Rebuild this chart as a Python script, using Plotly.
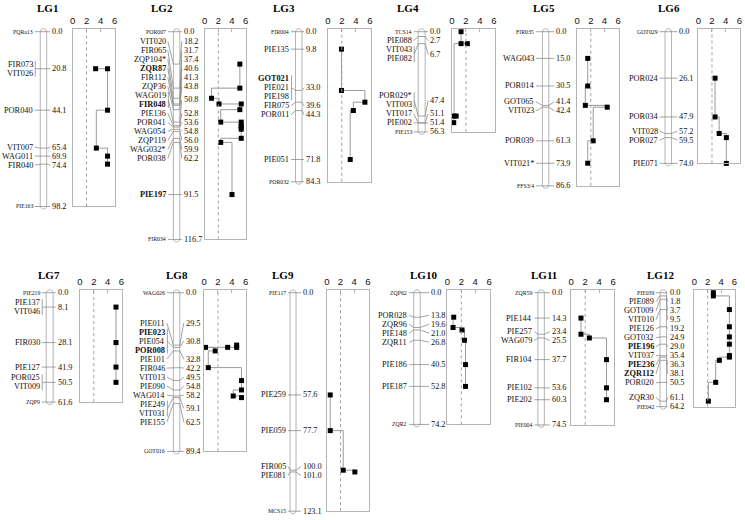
import math
import plotly.graph_objects as go

W, H = 745, 520

# ------------------------------------------------------------------ data
LG1_markers = ["PQRa13", "FIR073", "VIT026", "POR040", "VIT007", "WAG011", "FIR040", "PIE163"]
LG1_cM = [0.0, 20.8, 20.8, 44.1, 65.4, 69.9, 74.4, 98.2]
LG1_qtl_cM = [20.8, 20.8, 44.1, 65.4, 69.9, 74.4]
LG1_qtl_lod = [3.3, 5.0, 5.0, 3.4, 5.0, 5.0]

LG2_markers = ["POR007", "VIT020", "FIR065", "ZQP104*", "ZQR87", "FIR112", "ZQP36", "WAG019", "FIR048",
               "PIE136", "POR041", "WAG054", "ZQP119", "WAG032*", "POR038", "PIE197", "FIR034"]
LG2_cM = [0.0, 18.2, 31.7, 37.4, 40.6, 41.3, 43.8, 50.8, 50.8, 52.8, 53.6, 54.8, 56.0, 59.9, 62.2, 91.5, 116.7]
LG2_qtl_cM = [18.2, 31.7, 37.4, 40.6, 40.6, 43.8, 50.8, 50.8, 52.8, 53.6, 54.8, 59.9, 62.2, 91.5]
LG2_qtl_lod = [5.15, 5.15, 1.0, 2.1, 5.35, 5.15, 2.35, 5.35, 5.35, 5.35, 5.35, 5.35, 2.35, 4.0]

LG3_markers = ["FIR004", "PIE135", "GOT021", "PIE021", "PIE198", "FIR075", "POR011", "PIE051", "POR032"]
LG3_cM = [0.0, 9.8, 33.0, 33.0, 33.0, 39.6, 44.3, 71.8, 84.3]
LG3_qtl_cM = [9.8, 33.0, 39.6, 44.3, 71.8]
LG3_qtl_lod = [1.95, 1.95, 5.3, 3.65, 3.2]

LG4_markers = ["TCS14", "PIE088", "VIT043", "PIE082", "POR029*", "VIT003", "VIT017", "PIE002", "PIE153"]
LG4_cM = [0.0, 2.7, 6.7, 6.7, 47.4, 47.4, 51.1, 51.4, 56.3]
LG4_qtl_cM = [0.0, 6.7, 6.7, 47.4, 47.4, 51.1]
LG4_qtl_lod = [1.3, 1.3, 2.2, 0.3, 0.6, 0.25]

LG5_markers = ["FIR035", "WAG043", "POR014", "GOT065", "VIT023", "POR039", "VIT021*", "FFS3/4"]
LG5_cM = [0.0, 15.0, 30.5, 41.4, 42.4, 61.3, 73.9, 86.6]
LG5_qtl_cM = [15.0, 30.5, 41.4, 42.4, 61.3, 73.9]
LG5_qtl_lod = [1.55, 1.55, 1.2, 4.4, 2.35, 1.55]

LG6_markers = ["GOT029", "POR024", "POR034", "VIT028", "POR027", "PIE071"]
LG6_cM = [0.0, 26.1, 47.9, 57.2, 59.5, 74.0]
LG6_qtl_cM = [26.1, 47.9, 57.2, 59.5, 74.0]
LG6_qtl_lod = [2.45, 2.45, 3.05, 4.1, 4.1]

LG7_markers = ["PIE219", "PIE137", "VIT046", "FIR030", "PIE127", "POR025", "VIT009", "ZQP9"]
LG7_cM = [0.0, 8.1, 8.1, 28.1, 41.9, 50.5, 50.5, 61.6]
LG7_qtl_cM = [8.1, 28.1, 41.9, 50.5]
LG7_qtl_lod = [5.2, 5.2, 5.2, 5.2]

LG8_markers = ["WAG026", "PIE011", "PIE023", "PIE054", "POR008", "PIE101", "FIR046", "VIT013", "PIE090",
               "WAG014", "PIE249", "VIT031", "PIE155", "GOT016"]
LG8_cM = [0.0, 29.5, 30.8, 30.8, 30.8, 32.8, 42.2, 49.5, 54.8, 58.2, 59.1, 59.1, 62.5, 89.4]
LG8_qtl_cM = [29.5, 30.8, 30.8, 30.8, 32.8, 42.2, 49.5, 54.8, 58.2, 59.1]
LG8_qtl_lod = [4.7, 4.7, 3.4, 0.2, 1.6, 0.6, 5.4, 5.4, 4.2, 5.4]

LG9_markers = ["PIE117", "PIE259", "PIE059", "FIR005", "PIE081", "MCS15"]
LG9_cM = [0.0, 57.6, 77.7, 100.0, 101.0, 123.1]
LG9_qtl_cM = [57.6, 77.7, 100.0, 101.0]
LG9_qtl_lod = [0.5, 0.5, 2.4, 4.1]

LG10_markers = ["ZQP62", "POR028", "ZQR96", "PIE148", "ZQR11", "PIE186", "PIE187", "ZQR2"]
LG10_cM = [0.0, 13.8, 19.6, 21.0, 26.8, 40.5, 52.8, 74.2]
LG10_qtl_cM = [13.8, 19.6, 21.0, 26.8, 40.5, 52.8]
LG10_qtl_lod = [0.9, 0.8, 2.1, 2.45, 2.6, 2.6]

LG11_markers = ["ZQR59", "PIE144", "PIE257", "WAG079", "FIR104", "PIE102", "PIE202", "PIE004"]
LG11_cM = [0.0, 14.3, 23.4, 25.5, 37.7, 53.6, 60.3, 74.5]
LG11_qtl_cM = [14.3, 23.4, 25.5, 37.7, 53.6, 60.3]
LG11_qtl_lod = [1.4, 1.4, 2.6, 5.05, 5.05, 5.05]

LG12_markers = ["PIE039", "PIE089", "GOT009", "VIT010", "PIE126", "GOT032", "PIE196", "VIT037", "PIE236",
                "ZQR112", "POR020", "ZQR30", "PIE042"]
LG12_cM = [0.0, 1.8, 3.7, 9.5, 19.2, 24.9, 29.0, 35.4, 36.3, 38.1, 50.5, 61.1, 64.2]
LG12_qtl_cM = [0.0, 1.8, 9.5, 19.2, 24.9, 29.0, 35.4, 36.3, 38.1, 50.5, 61.1]
LG12_qtl_lod = [2.85, 2.85, 5.25, 5.25, 5.25, 5.25, 5.25, 5.25, 3.75, 3.2, 2.1]

bold_markers = ["ZQR87", "FIR048", "PIE197", "GOT021", "PIE023", "POR008", "PIE196", "PIE236", "ZQR112"]
end_markers = ["PQRa13", "PIE163", "POR007", "FIR034", "FIR004", "POR032", "TCS14", "PIE153", "FIR035",
               "FFS3/4", "GOT029", "PIE219", "ZQP9", "WAG026", "GOT016", "PIE117", "MCS15", "ZQP62",
               "ZQR2", "ZQR59", "PIE004", "PIE039", "PIE042"]
lod_ticks = [0, 2, 4, 6]
lod_threshold = 2.0

LGS = [
    ("LG1", LG1_markers, LG1_cM, LG1_qtl_cM, LG1_qtl_lod),
    ("LG2", LG2_markers, LG2_cM, LG2_qtl_cM, LG2_qtl_lod),
    ("LG3", LG3_markers, LG3_cM, LG3_qtl_cM, LG3_qtl_lod),
    ("LG4", LG4_markers, LG4_cM, LG4_qtl_cM, LG4_qtl_lod),
    ("LG5", LG5_markers, LG5_cM, LG5_qtl_cM, LG5_qtl_lod),
    ("LG6", LG6_markers, LG6_cM, LG6_qtl_cM, LG6_qtl_lod),
    ("LG7", LG7_markers, LG7_cM, LG7_qtl_cM, LG7_qtl_lod),
    ("LG8", LG8_markers, LG8_cM, LG8_qtl_cM, LG8_qtl_lod),
    ("LG9", LG9_markers, LG9_cM, LG9_qtl_cM, LG9_qtl_lod),
    ("LG10", LG10_markers, LG10_cM, LG10_qtl_cM, LG10_qtl_lod),
    ("LG11", LG11_markers, LG11_cM, LG11_qtl_cM, LG11_qtl_lod),
    ("LG12", LG12_markers, LG12_cM, LG12_qtl_cM, LG12_qtl_lod),
]

# ------------------------------------------------------------------ layout geometry (pixels)
GEOM = {
    "LG1": dict(title=45, lab=31, cl=37.5, cr=44, num=48.5, bl=70, br=113, row=0),
    "LG2": dict(title=160, lab=165, cl=171.5, cr=178, num=181, bl=203, br=245, row=0, shift=-15),
    "LG3": dict(title=283, lab=289, cl=294.5, cr=301, num=304, bl=327, br=370, row=0),
    "LG4": dict(title=408, lab=412.5, cl=418, cr=425, num=429, bl=452, br=495, row=0),
    "LG5": dict(title=545, lab=535.5, cl=543, cr=549.5, num=556, bl=578, br=620, row=0),
    "LG6": dict(title=670, lab=660, cl=666.5, cr=673, num=680, bl=700, br=742, row=0),
    "LG7": dict(title=46.5, lab=38, cl=43.5, cr=50.5, num=54, bl=77.5, br=120, row=1),
    "LG8": dict(title=175, lab=164, cl=171.5, cr=178, num=183, bl=202.5, br=245, row=1),
    "LG9": dict(title=281.5, lab=286, cl=289, cr=295, num=301, bl=326, br=368, row=1),
    "LG10": dict(title=423, lab=408, cl=413.5, cr=420, num=430, bl=447.5, br=490, row=1),
    "LG11": dict(title=545, lab=534, cl=538.5, cr=545, num=551.5, bl=572, br=615, row=1),
    "LG12": dict(title=661.5, lab=656.5, cl=661.5, cr=668, num=670, bl=696, br=737, row=1),
}
ROWS = [dict(y0=31.7, k=1.78, title_y=8), dict(y0=292.7, k=1.775, title_y=275)]
GAP_PX = 9.0
LABEL_SIZE = 8.3
SERIF = "Liberation Serif, Times New Roman, serif"
TEXT_COL = "#111111"
LINE_COL = "#8c8c8c"
FRAME_COL = "#b4b4b4"


def spread(desired, gap, lo, hi, shift=0.0):
    clusters = []

    def top_of(c):
        n = c[1]
        t = c[2] / n - (n - 1) * gap / 2.0
        if n > 1:
            t += shift
        t = min(t, hi - (n - 1) * gap)
        return max(lo, t)

    for i, d in enumerate(desired):
        clusters.append([i, 1, d])
        while len(clusters) > 1:
            a, b = clusters[-2], clusters[-1]
            if top_of(a) + a[1] * gap > top_of(b) + 1e-9:
                clusters[-2] = [a[0], a[1] + b[1], a[2] + b[2]]
                clusters.pop()
            else:
                break
    out = []
    for c in clusters:
        t = top_of(c)
        out += [t + j * gap for j in range(c[1])]
    return out


fig = go.Figure()
annotations = []
shapes = []
axes = {
    "xaxis": dict(range=[0, W], domain=[0, 1], visible=False, fixedrange=True),
    "yaxis": dict(range=[0, 1], domain=[0, 1], visible=False, fixedrange=True),
}

for i, (name, markers, cm, qcm, qlod) in enumerate(LGS):
    g = GEOM[name]
    r = ROWS[g["row"]]
    y0, k = r["y0"], r["k"]
    L = cm[-1]
    my_idx, ly_idx, lx_idx = i + 2, i + 14, i + 2
    my, ly, lx = f"y{my_idx}", f"y{ly_idx}", f"x{lx_idx}"

    def dom(top_cm, bot_cm):
        return [max(0.0, 1 - (y0 + bot_cm * k) / H), min(1.0, 1 - (y0 + top_cm * k) / H)]

    et = 4.0
    eb = min(4.0, (H - 0.5 - (y0 + L * k)) / k)
    axes[f"yaxis{my_idx}"] = dict(range=[L + eb, -et], domain=dom(-et, L + eb), visible=False,
                                  fixedrange=True, anchor="x")
    axes[f"yaxis{ly_idx}"] = dict(range=[L, -1.5], domain=dom(-1.5, L), anchor=lx, showline=True,
                                  mirror=True, linecolor=FRAME_COL, linewidth=1, ticks="",
                                  showticklabels=False, showgrid=False, zeroline=False, fixedrange=True)
    axes[f"xaxis{lx_idx}"] = dict(range=[0, 6.1], domain=[g["bl"] / W, g["br"] / W], anchor=ly,
                                  side="top", tickmode="array", tickvals=lod_ticks,
                                  ticktext=[str(t) for t in lod_ticks], ticks="inside", ticklen=3,
                                  tickcolor=FRAME_COL, showline=True, mirror=True, linecolor=FRAME_COL,
                                  linewidth=1, showgrid=False, zeroline=False, fixedrange=True,
                                  tickfont=dict(family="Liberation Sans, Arial, sans-serif", size=9.5,
                                                color=TEXT_COL))

    gap = GAP_PX / k
    shift = g.get("shift", 0.0) / k
    # label display positions (left column)
    disp = [cm[0]] + spread(cm[1:-1], gap, cm[0] + gap, L - gap, shift) + [L]
    # groups of identical positions (right column)
    groups = []
    for j, c in enumerate(cm):
        if groups and abs(groups[-1][0] - c) < 1e-9:
            groups[-1][1].append(j)
        else:
            groups.append((c, [j]))
    row_des = [sum(disp[j] for j in idx) / len(idx) for _, idx in groups]
    rows = [row_des[0]] + spread(row_des[1:-1], gap, row_des[0] + gap, row_des[-1] - gap) + [row_des[-1]]

    # chromosome capsule
    rad = (g["cr"] - g["cl"]) / 2.0
    cx = (g["cl"] + g["cr"]) / 2.0
    top_c = -3.0 / k
    bot_c = L + 2.5 / k
    px, py = [], []
    nseg = 10
    for s in range(nseg + 1):
        a = math.pi + math.pi * s / nseg
        px.append(cx + rad * math.cos(a))
        py.append(top_c + rad / k + (rad / k) * math.sin(a))
    for s in range(nseg + 1):
        a = math.pi * s / nseg
        px.append(cx + rad * math.cos(a))
        py.append(bot_c - rad / k + (rad / k) * math.sin(a))
    px.append(px[0])
    py.append(py[0])
    fig.add_trace(go.Scatter(x=px, y=py, xaxis="x", yaxis=my, mode="lines", fill="toself",
                             fillcolor="white", line=dict(color=FRAME_COL, width=1), hoverinfo="skip"))

    # connector lines
    cxs, cys = [], []
    for gi, (pos, idx) in enumerate(groups):
        if len(idx) == 1:
            j = idx[0]
            cxs += [g["lab"] + 1, g["cl"], g["cr"], g["num"] - 1, None]
            cys += [disp[j], pos, pos, rows[gi], None]
        else:
            ys = [disp[j] for j in idx]
            bx = g["lab"] + 1.5
            cxs += [bx, bx, None]
            cys += [min(ys) - 3.5 / k, max(ys) + 3.5 / k, None]
            cxs += [bx, g["cl"], g["cr"], g["num"] - 1, None]
            cys += [sum(ys) / len(ys), pos, pos, rows[gi], None]
    fig.add_trace(go.Scatter(x=cxs, y=cys, xaxis="x", yaxis=my, mode="lines",
                             line=dict(color=LINE_COL, width=0.8), hoverinfo="skip"))

    # marker labels
    for j, mname in enumerate(markers):
        small = mname in end_markers
        txt = f"<b>{mname}</b>" if mname in bold_markers else mname
        annotations.append(dict(x=g["lab"], y=disp[j], xref="x", yref=my, text=txt, showarrow=False,
                                xanchor="right", yanchor="middle", borderpad=0,
                                font=dict(family=SERIF, size=5.8 if small else LABEL_SIZE, color=TEXT_COL)))
    # position labels
    for gi, (pos, idx) in enumerate(groups):
        annotations.append(dict(x=g["num"], y=rows[gi], xref="x", yref=my, text=f"{pos:.1f}",
                                showarrow=False, xanchor="left", yanchor="middle", borderpad=0,
                                font=dict(family=SERIF, size=LABEL_SIZE, color=TEXT_COL)))
    # title
    annotations.append(dict(x=g["title"] / W, y=1 - r["title_y"] / H, xref="paper", yref="paper",
                            text=f"<b>{name}</b>", showarrow=False, xanchor="center", yanchor="middle",
                            font=dict(family=SERIF, size=11, color="#000")))

    # LOD threshold
    shapes.append(dict(type="line", xref=lx, yref=f"{ly} domain", x0=lod_threshold, x1=lod_threshold,
                       y0=0, y1=1, line=dict(color="#a0a0a0", width=1, dash="dot")))

    # LOD profile
    fig.add_trace(go.Scatter(x=qlod, y=qcm, xaxis=lx, yaxis=ly, mode="lines", line_shape="hv",
                             line=dict(color="#9a9a9a", width=1), hoverinfo="skip"))
    fig.add_trace(go.Scatter(x=qlod, y=qcm, xaxis=lx, yaxis=ly, mode="markers", cliponaxis=False,
                             marker=dict(symbol="square", size=5, color="black"), hoverinfo="skip"))

fig.update_layout(width=W, height=H, margin=dict(l=0, r=0, t=0, b=0), showlegend=False,
                  paper_bgcolor="white", plot_bgcolor="rgba(0,0,0,0)",
                  annotations=annotations, shapes=shapes, **axes)
fig.write_html("out.html", config={"displayModeBar": False, "staticPlot": True},
               post_script="document.body.style.margin='0px';document.body.style.overflow='hidden';")
